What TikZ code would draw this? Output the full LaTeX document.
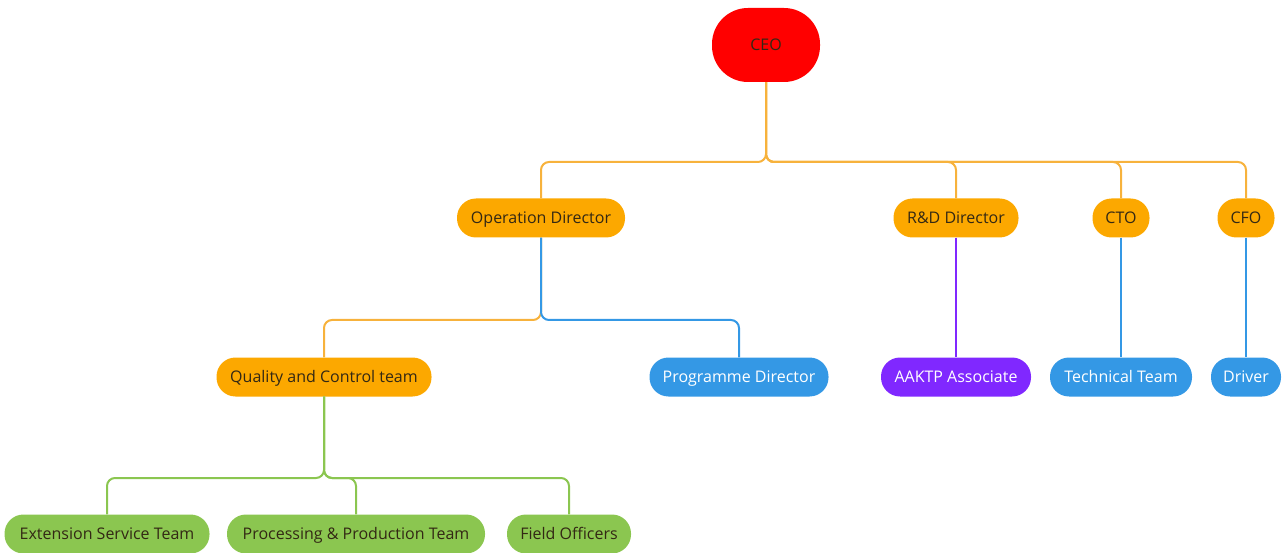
\documentclass[tikz,border=0pt]{standalone}
\usepackage{fontspec}
\setmainfont{Open Sans}
\definecolor{cred}{RGB}{255,0,0}
\definecolor{corange}{RGB}{252,168,0}
\definecolor{cline}{RGB}{247,178,60}
\definecolor{cblue}{RGB}{52,152,229}
\definecolor{cpurple}{RGB}{128,40,255}
\definecolor{cgreen}{RGB}{139,198,80}
\definecolor{ctext}{RGB}{51,40,20}
\begin{document}
\begin{tikzpicture}[x=1pt,y=-1pt,
  box/.style={rounded corners=19pt,minimum height=39pt,inner sep=0pt,font=\fontsize{16}{18}\selectfont,text height=13pt,text depth=1.4pt},
  obox/.style={box,fill=corange,text=ctext},
  bbox/.style={box,fill=cblue,text=white},
  pbox/.style={box,fill=cpurple,text=white},
  gbox/.style={box,fill=cgreen,text=ctext},
  conn/.style={line width=2pt,rounded corners=8pt}]
\useasboundingbox (0,0) rectangle (1285,553);
\node[box,fill=cred,text=ctext,minimum width=108pt,minimum height=74pt,rounded corners=36pt] (ceo) at (766,45) {CEO};
\node[obox,minimum width=168pt] (op) at (541,218) {Operation Director};
\node[obox,minimum width=125pt] (rd) at (956,218) {R\&D Director};
\node[obox,minimum width=57pt] (cto) at (1121,218) {CTO};
\node[obox,minimum width=57pt] (cfo) at (1246,218) {CFO};
\node[obox,minimum width=215pt] (qc) at (324,377) {Quality and Control team};
\node[bbox,minimum width=179pt] (pd) at (739,377) {Programme Director};
\node[pbox,minimum width=150pt] (aa) at (956,377) {AAKTP Associate};
\node[bbox,minimum width=142pt] (tt) at (1121,377) {Technical Team};
\node[bbox,minimum width=70pt] (dr) at (1246,377) {Driver};
\node[gbox,minimum width=205pt] (es) at (107,534) {Extension Service Team};
\node[gbox,minimum width=258pt] (pp) at (356,534) {Processing \& Production Team};
\node[gbox,minimum width=124pt] (fo) at (569,534) {Field Officers};
\draw[conn,cline] (ceo.south) |- (541,162) -- (op.north);
\draw[conn,cline] (ceo.south) |- (1246,162) -- (cfo.north);
\draw[conn,cline] (ceo.south) |- (956,162) -- (rd.north);
\draw[conn,cline] (ceo.south) |- (1121,162) -- (cto.north);
\draw[conn,cline] (op.south) |- (324,320) -- (qc.north);
\draw[conn,cblue] (op.south) |- (739,320) -- (pd.north);
\draw[conn,cpurple] (rd.south) -- (aa.north);
\draw[conn,cblue] (cto.south) -- (tt.north);
\draw[conn,cblue] (cfo.south) -- (dr.north);
\draw[conn,cgreen] (qc.south) |- (107,478) -- (es.north);
\draw[conn,cgreen] (qc.south) |- (356,478) -- (pp.north);
\draw[conn,cgreen] (qc.south) |- (569,478) -- (fo.north);
\end{tikzpicture}
\end{document}
